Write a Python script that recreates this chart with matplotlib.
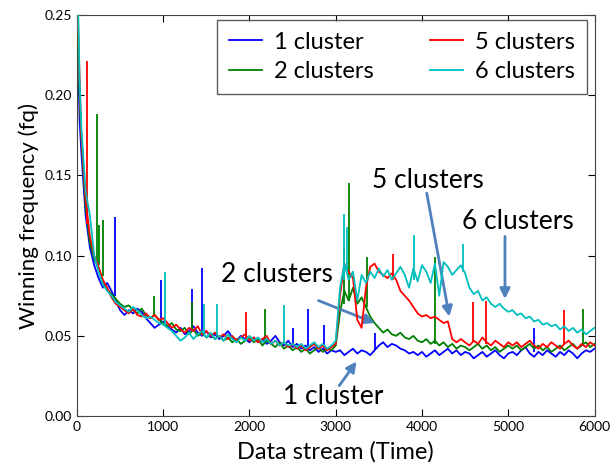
import matplotlib
matplotlib.use("Agg")
import matplotlib.pyplot as plt

plt.rcParams['font.family'] = ['Lato', 'DejaVu Sans']

# sample times of the read-off curves
t = [0, 15, 30] + list(range(50, 6001, 50))

one_cluster = [0.30, 0.22, 0.185,
               0.165, 0.125, 0.105, 0.094, 0.086, 0.080, 0.083, 0.078, 0.072, 0.066,
               0.063, 0.066, 0.064, 0.067, 0.065, 0.061, 0.058, 0.055, 0.057, 0.059,
               0.056, 0.054, 0.052, 0.055, 0.051, 0.053, 0.056, 0.052, 0.050, 0.053,
               0.049, 0.051, 0.048, 0.050, 0.053, 0.049, 0.047, 0.050, 0.048, 0.046,
               0.049, 0.046, 0.048, 0.045, 0.047, 0.050, 0.046, 0.044, 0.047, 0.043,
               0.045, 0.042, 0.044, 0.041, 0.043, 0.040, 0.042, 0.039, 0.041, 0.040,
               0.041, 0.038, 0.040, 0.042, 0.039, 0.041, 0.040, 0.038, 0.041, 0.044,
               0.046, 0.043, 0.045, 0.044, 0.042, 0.041, 0.039, 0.040, 0.038, 0.040,
               0.037, 0.039, 0.041, 0.038, 0.040, 0.042, 0.039, 0.041, 0.038, 0.040,
               0.039, 0.036, 0.038, 0.040, 0.037, 0.039, 0.041, 0.038, 0.036, 0.039,
               0.040, 0.038, 0.041, 0.043, 0.039, 0.037, 0.040, 0.038, 0.041, 0.039,
               0.037, 0.040, 0.038, 0.041, 0.039, 0.036, 0.039, 0.041, 0.040, 0.042]

two_clusters = [0.30, 0.23, 0.20,
                0.175, 0.130, 0.108, 0.098, 0.092, 0.083, 0.079, 0.076, 0.073, 0.070,
                0.068, 0.069, 0.066, 0.064, 0.067, 0.063, 0.061, 0.063, 0.060, 0.058,
                0.056, 0.058, 0.054, 0.053, 0.055, 0.051, 0.054, 0.050, 0.052, 0.049,
                0.051, 0.048, 0.050, 0.047, 0.049, 0.046, 0.048, 0.045, 0.047, 0.049,
                0.046, 0.048, 0.044, 0.047, 0.045, 0.043, 0.046, 0.042, 0.044, 0.041,
                0.043, 0.040, 0.042, 0.039, 0.041, 0.043, 0.040, 0.042, 0.041, 0.044,
                0.065, 0.078, 0.072, 0.080, 0.070, 0.074, 0.068, 0.062, 0.058, 0.055,
                0.052, 0.054, 0.051, 0.050, 0.052, 0.049, 0.048, 0.050, 0.047, 0.046,
                0.048, 0.045, 0.047, 0.044, 0.046, 0.043, 0.045, 0.042, 0.044, 0.043,
                0.041, 0.043, 0.045, 0.042, 0.044, 0.041, 0.043, 0.040, 0.042, 0.044,
                0.042, 0.044, 0.041, 0.043, 0.045, 0.042, 0.044, 0.041, 0.043, 0.040,
                0.042, 0.044, 0.041, 0.043, 0.045, 0.042, 0.044, 0.046, 0.043, 0.045]

five_clusters = [0.30, 0.24, 0.21,
                 0.175, 0.135, 0.112, 0.100, 0.093, 0.085, 0.080, 0.074, 0.070, 0.068,
                 0.066, 0.064, 0.067, 0.063, 0.062, 0.064, 0.061, 0.063, 0.060, 0.061,
                 0.058, 0.055, 0.057, 0.054, 0.052, 0.055, 0.053, 0.056, 0.051, 0.053,
                 0.050, 0.052, 0.049, 0.051, 0.048, 0.050, 0.047, 0.049, 0.051, 0.047,
                 0.049, 0.046, 0.048, 0.050, 0.045, 0.047, 0.044, 0.046, 0.043, 0.045,
                 0.042, 0.044, 0.041, 0.043, 0.045, 0.042, 0.044, 0.041, 0.043, 0.045,
                 0.075, 0.095, 0.090, 0.086, 0.060, 0.055, 0.080, 0.093, 0.095, 0.090,
                 0.088, 0.086, 0.089, 0.085, 0.078, 0.075, 0.072, 0.068, 0.064, 0.062,
                 0.063, 0.061, 0.062, 0.060, 0.058, 0.059, 0.048, 0.046, 0.048, 0.046,
                 0.044, 0.047, 0.045, 0.049, 0.046, 0.044, 0.047, 0.045, 0.043, 0.046,
                 0.044, 0.046, 0.043, 0.045, 0.047, 0.044, 0.042, 0.045, 0.043, 0.046,
                 0.044, 0.042, 0.045, 0.047, 0.044, 0.042, 0.045, 0.043, 0.046, 0.044]

six_clusters = [0.30, 0.25, 0.21,
                0.18, 0.14, 0.125, 0.10, 0.090, 0.082, 0.078, 0.075, 0.071, 0.069,
                0.067, 0.065, 0.068, 0.066, 0.063, 0.061, 0.062, 0.060, 0.058, 0.057,
                0.055, 0.053, 0.050, 0.047, 0.049, 0.052, 0.048, 0.051, 0.053, 0.049,
                0.052, 0.048, 0.050, 0.047, 0.051, 0.048, 0.046, 0.049, 0.047, 0.050,
                0.047, 0.049, 0.046, 0.048, 0.045, 0.047, 0.044, 0.046, 0.044, 0.045,
                0.043, 0.045, 0.042, 0.044, 0.046, 0.043, 0.045, 0.042, 0.044, 0.047,
                0.080, 0.095, 0.085, 0.090, 0.072, 0.088, 0.083, 0.090, 0.086, 0.092,
                0.087, 0.091, 0.085, 0.089, 0.093, 0.088, 0.080, 0.092, 0.084, 0.094,
                0.090, 0.083, 0.095, 0.075, 0.096, 0.093, 0.088, 0.091, 0.094, 0.089,
                0.080, 0.076, 0.078, 0.072, 0.074, 0.070, 0.068, 0.070, 0.067, 0.065,
                0.066, 0.063, 0.064, 0.061, 0.062, 0.059, 0.060, 0.057, 0.058, 0.056,
                0.057, 0.054, 0.056, 0.053, 0.055, 0.052, 0.054, 0.051, 0.053, 0.055]

# single-sample spikes: time, foot, peak
one_spike_t = [446, 975, 1333, 1444, 2500, 2684, 2869, 3453, 5296]
one_spike_lo = [0.075, 0.058, 0.054, 0.052, 0.045, 0.042, 0.041, 0.041, 0.040]
one_spike_hi = [0.124, 0.085, 0.079, 0.092, 0.055, 0.067, 0.057, 0.052, 0.055]

two_spike_t = [234, 250, 296, 891, 1333, 2185, 3090, 3157, 3360, 4147, 5872]
two_spike_lo = [0.095, 0.094, 0.087, 0.063, 0.054, 0.047, 0.070, 0.072, 0.068, 0.045, 0.044]
two_spike_hi = [0.188, 0.119, 0.122, 0.075, 0.071, 0.067, 0.105, 0.145, 0.099, 0.099, 0.067]

five_spike_t = [119, 1962, 3660, 4593, 4747, 5641]
five_spike_lo = [0.120, 0.048, 0.085, 0.047, 0.045, 0.044]
five_spike_hi = [0.221, 0.065, 0.101, 0.071, 0.072, 0.066]

six_spike_t = [1018, 1475, 1621, 2396, 3090, 3130, 3913, 4470]
six_spike_lo = [0.057, 0.052, 0.050, 0.045, 0.085, 0.090, 0.085, 0.090]
six_spike_hi = [0.090, 0.070, 0.070, 0.069, 0.126, 0.118, 0.113, 0.107]

fig = plt.figure(figsize=(6.11, 4.67), dpi=100)
ax = fig.add_axes([0.126, 0.109, 0.847, 0.859])

series = [
    ('1 cluster', 'b', one_cluster, one_spike_t, one_spike_lo, one_spike_hi),
    ('2 clusters', 'g', two_clusters, two_spike_t, two_spike_lo, two_spike_hi),
    ('5 clusters', 'r', five_clusters, five_spike_t, five_spike_lo, five_spike_hi),
    ('6 clusters', 'c', six_clusters, six_spike_t, six_spike_lo, six_spike_hi),
]
for i, (name, col, vals, st, slo, shi) in enumerate(series):
    ax.plot(t, vals, color=col, lw=1.3, label=name, zorder=2 + i)
    ax.vlines(st, slo, shi, color=col, lw=1.3, zorder=2 + i)

ax.set_xlim(0, 6000)
ax.set_ylim(0, 0.25)
ax.set_xticks(range(0, 6001, 1000))
ax.set_yticks([0.0, 0.05, 0.10, 0.15, 0.20, 0.25])
ax.set_yticklabels(['0.00', '0.05', '0.10', '0.15', '0.20', '0.25'])
ax.tick_params(direction='in', top=True, right=True, labelsize=10, length=5)
for s in ax.spines.values():
    s.set_color('#444444')

ax.set_xlabel('Data stream (Time)', fontsize=17, labelpad=6)
ax.set_ylabel('Winning frequency (fq)', fontsize=16)

leg = ax.legend(ncol=2, loc='upper right', fontsize=17, fancybox=False,
                handlelength=1.4, handletextpad=0.5, columnspacing=2.4,
                borderpad=0.5, labelspacing=0.35, borderaxespad=0,
                bbox_to_anchor=(0.985, 0.988))
leg.get_frame().set_edgecolor('#333333')
leg.get_frame().set_linewidth(1.0)

arrow_col = '#4f81bd'
arrow = dict(arrowstyle='-|>', color=arrow_col, lw=2, mutation_scale=15, shrinkA=0, shrinkB=0)
ax.annotate('', xy=(4317, 0.062), xytext=(4055, 0.139), arrowprops=arrow)
ax.annotate('', xy=(4962, 0.073), xytext=(4962, 0.112), arrowprops=arrow)
ax.annotate('', xy=(3452, 0.058), xytext=(2800, 0.072), arrowprops=arrow)
ax.annotate('', xy=(3241, 0.034), xytext=(3041, 0.019), arrowprops=arrow)

ax.text(4067, 0.147, '5 clusters', fontsize=19, ha='center', va='center')
ax.text(5115, 0.121, '6 clusters', fontsize=19, ha='center', va='center')
ax.text(2316, 0.0885, '2 clusters', fontsize=19, ha='center', va='center')
ax.text(2972, 0.0125, '1 cluster', fontsize=19, ha='center', va='center')

fig.savefig('out.png', dpi=100)
